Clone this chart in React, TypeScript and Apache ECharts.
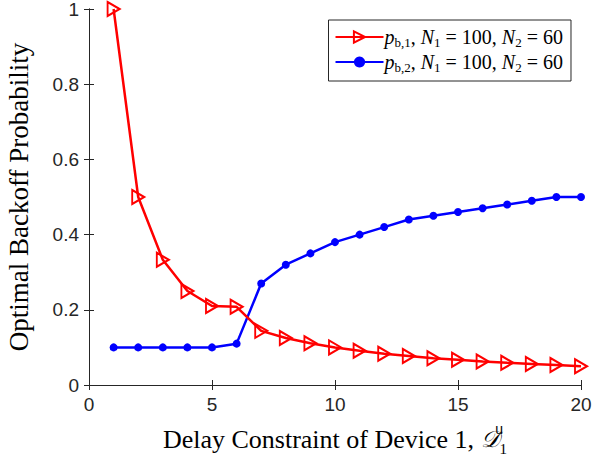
import React, { useEffect, useRef } from "react";
import * as echarts from "echarts";

const xValues = [1, 2, 3, 4, 5, 6, 7, 8, 9, 10, 11, 12, 13, 14, 15, 16, 17, 18, 19, 20];
const pb1 = [1, 0.5, 0.333, 0.25, 0.21, 0.208, 0.144, 0.125, 0.111, 0.1, 0.091, 0.083, 0.077, 0.071, 0.067, 0.0625, 0.059, 0.056, 0.053, 0.05];
const pb2 = [0.1, 0.1, 0.1, 0.1, 0.1, 0.11, 0.27, 0.32, 0.35, 0.38, 0.4, 0.42, 0.44, 0.45, 0.46, 0.47, 0.48, 0.49, 0.5, 0.5];
const seriesNames = ["pb1", "pb2"];
const xTicks = [0, 5, 10, 15, 20];
const yTicks = [0, 0.2, 0.4, 0.6, 0.8, 1];

const AX = "#262626";
const SERIF = "'Liberation Serif', 'DejaVu Serif', serif";
const SANS = "'Liberation Sans', Arial, sans-serif";

export default function App() {
  const ref = useRef<HTMLDivElement>(null);
  useEffect(() => {
    if (!ref.current) return;
    const chart = echarts.init(ref.current, null, { renderer: "svg" });
    const legendRich = {
      i: { fontFamily: SERIF, fontStyle: "italic", fontSize: 20, color: "#000", lineHeight: 24, verticalAlign: "middle" },
      t: { fontFamily: SERIF, fontSize: 20, color: "#000", lineHeight: 24, verticalAlign: "middle" },
      s: { fontFamily: SERIF, fontSize: 13, color: "#000", lineHeight: 14, verticalAlign: "bottom" },
    };
    const xAxisCommon = {
      type: "value",
      min: 0,
      max: 20,
      interval: 5,
      axisLine: { show: true, lineStyle: { color: AX, width: 1 } },
      axisTick: { show: true, inside: true, length: 5, lineStyle: { color: AX } },
      splitLine: { show: false },
    };
    const yAxisCommon = {
      type: "value",
      min: 0,
      max: 1,
      interval: 0.2,
      axisLine: { show: true, lineStyle: { color: AX, width: 1 } },
      axisTick: { show: true, inside: true, length: 5, lineStyle: { color: AX } },
      splitLine: { show: false },
    };
    chart.setOption({
      animation: false,
      backgroundColor: "#fff",
      grid: { left: 89, right: 16, top: 9, bottom: 74, outerBoundsMode: "none", containLabel: false },
      xAxis: [
        {
          ...xAxisCommon,
          position: "bottom",
          axisLabel: {
            fontFamily: SANS,
            fontSize: 19,
            color: AX,
            margin: 10,
            formatter: (v: number) => (xTicks.includes(v) ? String(v) : ""),
          },
          name: "{t|Delay Constraint of Device 1, }{c|𝒟}{sup|u}{sub|1}",
          nameLocation: "middle",
          nameGap: 37,
          nameTextStyle: {
            rich: {
              t: { fontFamily: SERIF, fontSize: 26, color: "#000", lineHeight: 34, verticalAlign: "middle" },
              c: { fontFamily: "'DejaVu Serif', 'Noto Sans', serif", fontStyle: "italic", fontSize: 23, color: "#000", lineHeight: 34, verticalAlign: "middle" },
              sup: { fontFamily: SANS, fontSize: 14, color: "#000", verticalAlign: "top", lineHeight: 14, width: 1 },
              sub: { fontFamily: SERIF, fontSize: 15, color: "#000", verticalAlign: "bottom", lineHeight: 15 },
            },
          },
        },
        { ...xAxisCommon, position: "top", axisLabel: { show: false } },
      ],
      yAxis: [
        {
          ...yAxisCommon,
          position: "left",
          axisLabel: {
            fontFamily: SANS,
            fontSize: 19,
            color: AX,
            margin: 10,
            formatter: (v: number) => {
              const t = yTicks.find((y) => Math.abs(y - v) < 1e-9);
              return t === undefined ? "" : String(t);
            },
          },
          name: "Optimal Backoff Probability",
          nameLocation: "middle",
          nameGap: 57,
          nameTextStyle: { fontFamily: SERIF, fontSize: 27, color: "#000" },
        },
        { ...yAxisCommon, position: "right", axisLabel: { show: false } },
      ],
      legend: {
        orient: "vertical",
        right: 26,
        top: 20,
        backgroundColor: "#fff",
        borderColor: AX,
        borderWidth: 1,
        borderRadius: 0,
        padding: [7, 8, 7, 6],
        itemGap: 3,
        itemWidth: 48,
        itemHeight: 14,
        data: seriesNames,
        formatter: (name: string) =>
          name === "pb1"
            ? "{i|p}{s|b,1}{t|, }{i|N}{s|1}{t| = 100, }{i|N}{s|2}{t| = 60}"
            : "{i|p}{s|b,2}{t|, }{i|N}{s|1}{t| = 100, }{i|N}{s|2}{t| = 60}",
        textStyle: { rich: legendRich, padding: [0, 0, 0, -4] },
      },
      series: [
        {
          name: "pb1",
          type: "line",
          data: xValues.map((x, i) => [x, pb1[i]]),
          symbol: "path://M0,0 L10,5 L0,10 Z",
          symbolSize: [12, 14],
          symbolKeepAspect: false,
          lineStyle: { color: "#ff0000", width: 2.5 },
          itemStyle: { color: "rgba(255,255,255,0)", borderColor: "#ff0000", borderWidth: 2 },
          z: 3,
        },
        {
          name: "pb2",
          type: "line",
          data: xValues.map((x, i) => [x, pb2[i]]),
          symbol: "circle",
          symbolSize: 8,
          lineStyle: { color: "#0000ff", width: 2.5 },
          itemStyle: { color: "#0000ff", borderColor: "#0000ff", borderWidth: 0 },
          z: 2,
        },
      ],
    });
    return () => chart.dispose();
  }, []);
  return <div ref={ref} style={{ width: 597, height: 459, position: "absolute", left: 0, top: 0 }} />;
}
